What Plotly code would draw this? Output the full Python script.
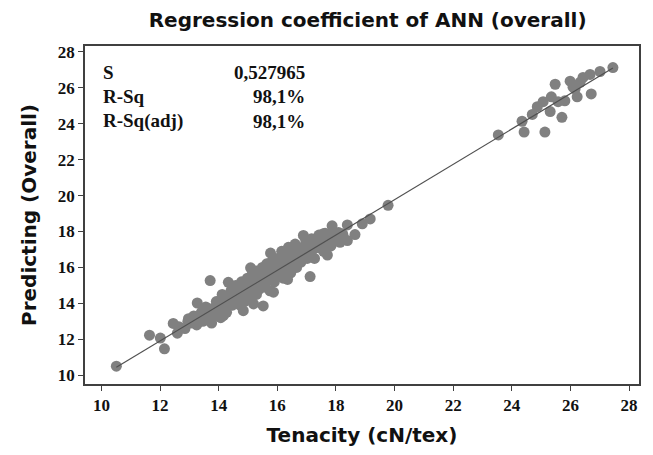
import numpy as np
import plotly.graph_objects as go

# Observed tenacity (x) and ANN predicted (y)
tenacity = [
    10.51, 11.64, 12.01, 12.15, 12.45, 12.59, 12.97, 13.27, 13.48, 13.71, 13.71, 13.96, 14.16, 14.33,
    14.51, 14.84, 15.19, 15.52, 15.09, 15.77, 15.87, 16.35, 17.12, 16.89, 17.71,
    19.78, 19.17, 18.90, 18.39, 18.65, 18.39, 18.22, 17.87, 17.57, 18.09, 16.38,
    12.64, 12.85, 12.95, 13.05, 13.15, 13.25, 13.36, 13.41, 13.46, 13.56, 13.56, 13.66, 13.76, 13.76,
    13.86, 13.92, 13.97, 14.07, 14.07, 14.12, 14.17, 14.27, 14.27, 14.37, 14.42, 14.47, 14.53, 14.58,
    14.58, 14.68, 14.73, 14.78, 14.78, 14.88, 14.88, 14.98, 14.98, 15.09, 15.09, 15.14, 15.19, 15.24,
    15.29, 15.29, 15.39, 15.39, 15.44, 15.49, 15.49, 15.59, 15.59, 15.64, 15.70, 15.70, 15.75, 15.80,
    15.80, 15.90, 15.90, 15.95, 16.00, 16.00, 16.10, 16.10, 16.15, 16.20, 16.20, 16.31, 16.31, 16.41,
    16.41, 16.46, 16.51, 16.56, 16.61, 16.61, 16.66, 16.71, 16.81, 16.81, 16.92, 16.97, 17.02, 17.07,
    17.12, 17.17, 17.22, 17.27, 17.32, 17.42, 17.42, 17.53, 17.58, 17.63, 17.68, 17.73, 17.83, 17.88,
    17.93, 18.03, 18.14, 18.24,
    23.54, 24.35, 24.42, 24.70, 24.87, 25.13, 25.31, 25.48, 25.35, 25.07, 25.58, 25.71, 25.81,
    25.99, 26.23, 26.33, 26.43, 26.67, 26.71, 27.01, 27.45, 26.16, 26.09,
]
predicted = [
    10.5, 12.23, 12.07, 11.47, 12.88, 12.34, 13.15, 14.02, 13.43, 15.27, 13.05, 13.81, 13.32, 15.17,
    13.97, 13.59, 13.97, 13.86, 15.98, 16.80, 14.62, 15.33, 15.49, 17.78, 16.69,
    19.46, 18.70, 18.43, 18.37, 17.83, 17.50, 17.88, 18.32, 17.88, 17.94, 17.12,
    12.7, 12.6, 13.0, 12.9, 13.3, 12.8, 13.1, 13.5, 13.0, 13.2, 13.8, 13.4, 12.9, 13.7,
    13.3, 14.1, 13.6, 13.2, 14.0, 14.5, 13.8, 14.3, 13.5, 14.1, 14.7, 13.9, 14.4, 15.0,
    14.2, 14.6, 13.9, 15.2, 14.4, 14.9, 14.1, 15.4, 14.6, 15.0, 14.4, 15.6, 14.8, 15.3,
    14.5, 15.8, 15.1, 14.8, 15.5, 16.0, 15.2, 14.9, 15.7, 16.2, 15.3, 15.9, 14.7, 15.6,
    16.3, 15.9, 15.2, 16.5, 16.1, 15.5, 15.8, 16.4, 16.9, 16.1, 15.4, 16.6, 15.9, 16.3,
    17.0, 15.7, 16.5, 16.1, 16.8, 17.3, 16.0, 16.6, 17.1, 16.3, 16.9, 17.5, 16.5, 17.2,
    16.8, 17.6, 17.0, 16.5, 17.4, 17.8, 17.1, 17.5, 16.9, 17.9, 17.3, 17.7, 17.2, 18.0,
    17.6, 17.9, 17.4, 17.8,
    23.38, 24.14, 23.54, 24.52, 24.95, 23.54, 24.68, 26.20, 25.50, 25.23, 25.23, 24.36, 25.28,
    26.37, 25.50, 26.31, 26.58, 26.75, 25.66, 26.91, 27.13, 25.93, 26.04,
]

x_ticks = [10, 12, 14, 16, 18, 20, 22, 24, 26, 28]
y_ticks = [10, 12, 14, 16, 18, 20, 22, 24, 26, 28]
stat_labels = ["S", "R-Sq", "R-Sq(adj)"]
stat_values = ["0,527965", "98,1%", "98,1%"]

x = np.array(tenacity)
y = np.array(predicted)
b, a = np.polyfit(x, y, 1)
xl = np.array([x.min(), x.max()])
yl = a + b * xl

fig = go.Figure()
fig.add_trace(go.Scatter(x=x, y=y, mode="markers",
                         marker=dict(color="#808080", size=11, line=dict(width=0)),
                         showlegend=False))
fig.add_trace(go.Scatter(x=xl, y=yl, mode="lines",
                         line=dict(color="#505050", width=1.2), showlegend=False))

ys = [0.922, 0.850, 0.777]
stat_font = dict(family="Liberation Serif", size=19, color="#111")
for lab, val, yy in zip(stat_labels, stat_values, ys):
    fig.add_annotation(xref="paper", yref="paper", x=0.028, y=yy, text=f"<b>{lab}</b>",
                       showarrow=False, xanchor="left", yanchor="middle", font=stat_font)
    fig.add_annotation(xref="paper", yref="paper", x=0.40, y=yy, text=f"<b>{val}</b>",
                       showarrow=False, xanchor="right", yanchor="middle", font=stat_font)

axis_common = dict(showgrid=False, zeroline=False, showline=True, linecolor="#404040",
                   linewidth=1.5, mirror=True, ticks="outside", ticklen=5, tickwidth=1,
                   tickcolor="#404040",
                   tickfont=dict(family="Liberation Serif", size=17, color="#111"))
title_font = dict(family="DejaVu Sans", size=20, color="#111")

fig.update_layout(
    width=653, height=455,
    paper_bgcolor="white", plot_bgcolor="white",
    margin=dict(l=85, r=12, t=46, b=63),
    title=dict(text="<b>Regression coefficient of ANN (overall)</b>", x=0.563, xanchor="center",
               y=0.955, yanchor="middle", font=title_font),
    xaxis=dict(range=[9.44, 28.34], tickvals=x_ticks, ticktext=[f"<b>{t}</b>" for t in x_ticks],
               title=dict(text="<b>Tenacity (cN/tex)</b>", standoff=14, font=title_font),
               **axis_common),
    yaxis=dict(range=[9.51, 28.33], tickvals=y_ticks, ticktext=[f"<b>{t}</b>" for t in y_ticks],
               title=dict(text="<b>Predicting (Overall)</b>", standoff=16, font=title_font),
               **axis_common),
)

fig.write_html("out.html", config={"displayModeBar": False},
               post_script="document.body.style.margin='0';")
